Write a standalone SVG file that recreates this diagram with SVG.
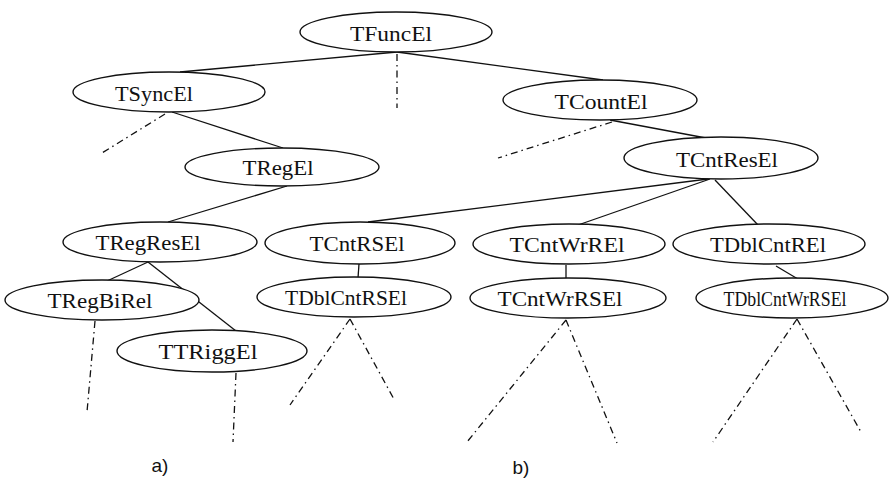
<svg xmlns="http://www.w3.org/2000/svg" width="890" height="479" viewBox="0 0 890 479">
<style>
.n ellipse{fill:#fff;stroke:#111;stroke-width:1.4}
.n text{font-family:"Liberation Serif","Times New Roman",serif;font-size:22px;fill:#111;text-anchor:middle;dominant-baseline:central}
.e line{stroke:#111;stroke-width:1.3}
.e line.d{stroke-dasharray:7 4 1.5 4}
.lbl{font-family:"Liberation Sans",Arial,sans-serif;font-size:19px;fill:#111;text-anchor:middle}
</style>
<rect width="890" height="479" fill="#fff"/>
<g id="connectors" class="e">
<line x1="397" y1="52" x2="180" y2="72"/>
<line x1="397" y1="52" x2="603" y2="80"/>
<line class="d" x1="397" y1="54" x2="397" y2="108"/>
<line x1="172" y1="112" x2="283" y2="148"/>
<line class="d" x1="165" y1="114" x2="102" y2="153"/>
<line x1="610" y1="120" x2="706" y2="138"/>
<line class="d" x1="612" y1="122" x2="498" y2="158"/>
<line x1="287" y1="186" x2="168" y2="222"/>
<line x1="708" y1="179" x2="368" y2="222"/>
<line x1="710" y1="179" x2="578" y2="225"/>
<line x1="715" y1="180" x2="758" y2="225"/>
<line x1="148" y1="262" x2="107" y2="281"/>
<line x1="148" y1="262" x2="236" y2="331"/>
<line x1="359" y1="264" x2="358" y2="278"/>
<line x1="566" y1="265" x2="566" y2="288"/>
<line x1="776" y1="266" x2="808" y2="285"/>
<line class="d" x1="95" y1="321" x2="87" y2="412"/>
<line class="d" x1="236" y1="373" x2="233" y2="442"/>
<line class="d" x1="350" y1="319" x2="290" y2="405"/>
<line class="d" x1="350" y1="319" x2="395" y2="401"/>
<line class="d" x1="566" y1="320" x2="467" y2="442"/>
<line class="d" x1="566" y1="320" x2="617" y2="443"/>
<line class="d" x1="797" y1="319" x2="713" y2="442"/>
<line class="d" x1="797" y1="319" x2="861" y2="432"/>
</g>
<g id="TFuncEl" class="n"><ellipse cx="396" cy="32" rx="96" ry="20"/><text x="391" y="33" textLength="82" lengthAdjust="spacingAndGlyphs">TFuncEl</text></g>
<g id="TSyncEl" class="n"><ellipse cx="169" cy="92" rx="96" ry="20"/><text x="154" y="93" textLength="78" lengthAdjust="spacingAndGlyphs">TSyncEl</text></g>
<g id="TCountEl" class="n"><ellipse cx="600" cy="100" rx="97" ry="20"/><text x="601" y="101" textLength="93" lengthAdjust="spacingAndGlyphs">TCountEl</text></g>
<g id="TRegEl" class="n"><ellipse cx="282" cy="167" rx="97" ry="19"/><text x="278" y="167" textLength="71" lengthAdjust="spacingAndGlyphs">TRegEl</text></g>
<g id="TCntResEl" class="n"><ellipse cx="721" cy="158" rx="97" ry="21"/><text x="727" y="159" textLength="102" lengthAdjust="spacingAndGlyphs">TCntResEl</text></g>
<g id="TRegResEl" class="n"><ellipse cx="160" cy="242" rx="97" ry="20"/><text x="148" y="242" textLength="105" lengthAdjust="spacingAndGlyphs">TRegResEl</text></g>
<g id="TCntRSEl" class="n"><ellipse cx="360" cy="243" rx="95" ry="21"/><text x="357" y="243" textLength="95" lengthAdjust="spacingAndGlyphs">TCntRSEl</text></g>
<g id="TCntWrREl" class="n"><ellipse cx="569" cy="244" rx="96" ry="20"/><text x="567" y="244" textLength="115" lengthAdjust="spacingAndGlyphs">TCntWrREl</text></g>
<g id="TDblCntREl" class="n"><ellipse cx="769" cy="244" rx="96" ry="20"/><text x="768" y="244" textLength="116" lengthAdjust="spacingAndGlyphs">TDblCntREl</text></g>
<g id="TRegBiRel" class="n"><ellipse cx="102" cy="300" rx="97" ry="20"/><text x="100" y="300" textLength="105" lengthAdjust="spacingAndGlyphs">TRegBiRel</text></g>
<g id="TDblCntRSEl" class="n"><ellipse cx="354" cy="297" rx="97" ry="20"/><text x="346" y="297" textLength="122" lengthAdjust="spacingAndGlyphs">TDblCntRSEl</text></g>
<g id="TCntWrRSEl" class="n"><ellipse cx="568" cy="298" rx="98" ry="20"/><text x="560" y="298" textLength="125" lengthAdjust="spacingAndGlyphs">TCntWrRSEl</text></g>
<g id="TDblCntWrRSEl" class="n"><ellipse cx="792" cy="298" rx="96" ry="20"/><text x="785" y="298" textLength="123" lengthAdjust="spacingAndGlyphs">TDblCntWrRSEl</text></g>
<g id="TTRiggEl" class="n"><ellipse cx="212" cy="351" rx="95" ry="21"/><text x="208" y="351" textLength="99" lengthAdjust="spacingAndGlyphs">TTRiggEl</text></g>
<text class="lbl" x="160" y="472">a)</text>
<text class="lbl" x="521" y="474">b)</text>
</svg>
